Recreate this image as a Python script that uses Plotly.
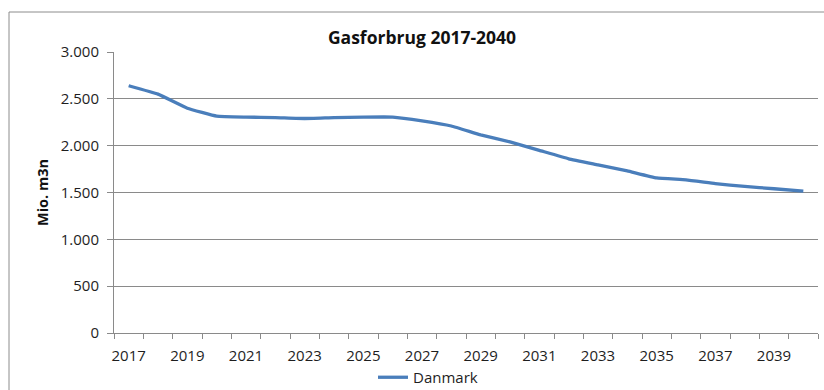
import plotly.graph_objects as go

# Annual gas consumption for Denmark, million m3n
years = list(range(2017, 2041))
danmark = [2640, 2550, 2400, 2315, 2305, 2300, 2290, 2300, 2305, 2305, 2265, 2210,
           2115, 2040, 1950, 1860, 1795, 1730, 1655, 1635, 1595, 1565, 1540, 1515]
x_labels = [str(y) for y in range(2017, 2041, 2)]
y_ticks = [0, 500, 1000, 1500, 2000, 2500, 3000]

FONT = "Open Sans"
GRID = "#8a8a8a"
TEXT = "#1e1e1e"

# plot-area box in pixels
W, H = 824, 390
L, R, T, B = 114, 818, 52, 333
pw, ph = R - L, B - T


def px(xp):
    return (xp - L) / pw


def py(yp):
    return (B - yp) / ph


fig = go.Figure()
fig.add_trace(go.Scatter(
    x=years, y=danmark, mode="lines", name="Danmark",
    line=dict(color="#4a7ebb", width=3.3, shape="spline", smoothing=0.3),
))

fig.update_layout(
    width=W, height=H,
    margin=dict(l=L, r=W - R, t=T, b=H - B, autoexpand=False),
    paper_bgcolor="white", plot_bgcolor="white",
    separators=",.",
    font=dict(family=FONT, size=15, color=TEXT),
    title=dict(text="<b>Gasforbrug 2017-2040</b>", x=px(422), xref="paper",
               xanchor="center", y=1 - 38 / H, yanchor="middle",
               font=dict(family=FONT, size=17.5, color="#111")),
    showlegend=True,
    legend=dict(orientation="h", x=px(373), xanchor="left", y=py(361), yanchor="top",
                font=dict(family=FONT, size=15, color=TEXT),
                bgcolor="rgba(0,0,0,0)", itemwidth=30, tracegroupgap=0),
    xaxis=dict(
        range=[2016.5, 2040.5],
        tickmode="array", tickvals=[int(v) for v in x_labels], ticktext=x_labels,
        ticks="", showgrid=False, zeroline=False,
        showline=True, linecolor=GRID, linewidth=1,
        tickfont=dict(family=FONT, size=15, color=TEXT),
        ticklabelstandoff=9,
        minor=dict(ticks="outside", tick0=2016.5, dtick=1, ticklen=5,
                   tickcolor=GRID, tickwidth=1, showgrid=False),
        fixedrange=True,
    ),
    yaxis=dict(
        range=[0, 3000], tickmode="array", tickvals=y_ticks, tickformat=",d",
        ticks="outside", ticklen=6, tickcolor=GRID, tickwidth=1,
        showgrid=True, gridcolor=GRID, gridwidth=1, zeroline=False,
        showline=True, linecolor=GRID, linewidth=1,
        tickfont=dict(family=FONT, size=15, color=TEXT),
        ticklabelstandoff=5,
        title=dict(text="<b>Mio. m3n</b>", standoff=8,
                   font=dict(family=FONT, size=14.5, color="#111")),
        fixedrange=True,
    ),
)

# chart frame
fig.add_shape(type="rect", xref="paper", yref="paper",
              x0=px(9), x1=px(W + 20), y0=py(H + 20), y1=py(12),
              line=dict(color="#8c8c8c", width=1), fillcolor="rgba(0,0,0,0)",
              layer="below")

fig.write_html("out.html")
